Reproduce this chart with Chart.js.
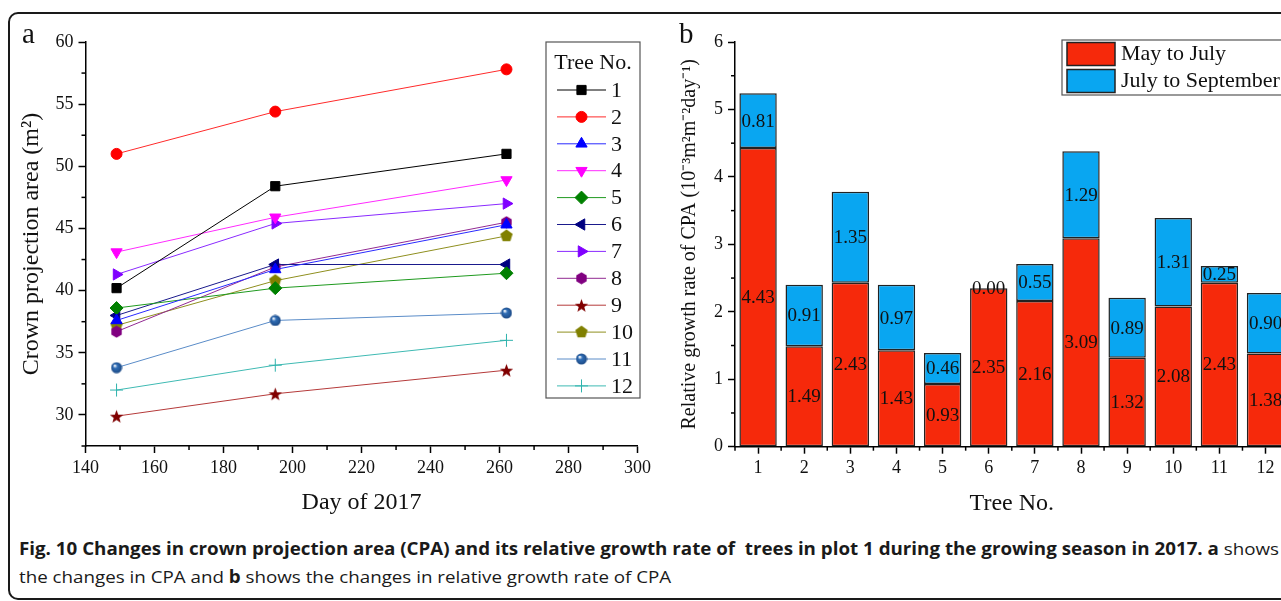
<!DOCTYPE html>
<html>
<head>
<meta charset="utf-8">
<script src="https://cdn.jsdelivr.net/npm/chart.js@4.4.0/dist/chart.umd.min.js"></script>
<style>
    html, body { margin: 0; padding: 0; background: #fff; overflow: hidden; width: 1281px; height: 601px; }
    #frame { position: absolute; left: 8px; top: 12px; width: 1310px; height: 584px; border: 2px solid #1a1a1a; border-radius: 10px; }
    canvas { position: absolute; top: 0; }
    #cpaChart { left: 0; }
    #rateChart { left: 660px; }
    .panel { position: absolute; top: 18px; font-family: 'Liberation Serif', serif; font-size: 29px; line-height: 30px; color: #111; }
    #caption { position: absolute; left: 19px; top: 535px; font-family: 'Open Sans', sans-serif; font-size: 17px; line-height: 28px; color: #1a1a1a; white-space: nowrap; transform-origin: 0 0; }
    #caption b { font-weight: 700; }
</style>
</head>
<body>
<div id="frame"></div>
<canvas id="cpaChart" width="660" height="530"></canvas>
<canvas id="rateChart" width="640" height="530"></canvas>
<div class="panel" style="left:22px">a</div>
<div class="panel" style="left:679px">b</div>
<div id="caption">
    <div id="capLine1"><b>Fig. 10 Changes in crown projection area (CPA) and its relative growth rate of&nbsp; trees in plot 1 during the growing season in 2017. a</b> shows</div>
    <div>the changes in CPA and <b>b</b> shows the changes in relative growth rate of CPA</div>
</div>
<script>
// ---- dữ liệu hình a: diện tích tán (m2) theo ngày ----
const days = [149, 195, 262];
const treeNo = ['1', '2', '3', '4', '5', '6', '7', '8', '9', '10', '11', '12'];
const cpa1 = [40.2, 48.4, 51.0];
const cpa2 = [51.0, 54.4, 57.8];
const cpa3 = [37.6, 41.7, 45.3];
const cpa4 = [43.1, 45.9, 48.9];
const cpa5 = [38.6, 40.2, 41.4];
const cpa6 = [38.0, 42.1, 42.1];
const cpa7 = [41.3, 45.4, 47.0];
const cpa8 = [36.7, 41.9, 45.5];
const cpa9 = [29.9, 31.7, 33.6];
const cpa10 = [37.2, 40.8, 44.4];
const cpa11 = [33.8, 37.6, 38.2];
const cpa12 = [32.0, 34.0, 36.0];
const cpaSeries = [cpa1, cpa2, cpa3, cpa4, cpa5, cpa6, cpa7, cpa8, cpa9, cpa10, cpa11, cpa12];
const dayTicks = [140, 160, 180, 200, 220, 240, 260, 280, 300];
const cpaTicks = [30, 35, 40, 45, 50, 55, 60];

// ---- dữ liệu hình b: tốc độ tăng trưởng tương đối ----
const mayToJuly = [4.43, 1.49, 2.43, 1.43, 0.93, 2.35, 2.16, 3.09, 1.32, 2.08, 2.43, 1.38];
const julyToSep = [0.81, 0.91, 1.35, 0.97, 0.46, 0.00, 0.55, 1.29, 0.89, 1.31, 0.25, 0.90];
const rateTicks = [0, 1, 2, 3, 4, 5, 6];

// màu và ký hiệu từng cây
const markerColors = ['#000000', '#ff0000', '#0000ff', '#ff00ff', '#008000', '#000080', '#8000ff', '#800080', '#800000', '#808000', '#2f6db5', '#2fb3ad'];
const lineColors = ['#000000', '#ff2a2a', '#2a2aff', '#ff2aff', '#1f9a1f', '#1a1a8c', '#8a2aff', '#922a92', '#b53a3a', '#8f8f1f', '#5a8cc8', '#3fbab3'];

Chart.defaults.font.family = "'Liberation Serif', 'Times New Roman', serif";
Chart.defaults.color = '#111';

function shapeMarker(kind, fill, size) {
    const c = document.createElement('canvas');
    c.width = c.height = size;
    const g = c.getContext('2d');
    const cx = size / 2, cy = size / 2, r = size / 2 - 0.5;
    g.beginPath();
    if (kind === 'hexagon' || kind === 'pentagon') {
        const n = kind === 'hexagon' ? 6 : 5;
        for (let k = 0; k < n; k++) {
            const a = -Math.PI / 2 + k * 2 * Math.PI / n;
            g.lineTo(cx + r * Math.cos(a), cy + r * Math.sin(a));
        }
    } else if (kind === 'star') {
        for (let k = 0; k < 10; k++) {
            const a = -Math.PI / 2 + k * Math.PI / 5;
            const rr = k % 2 ? r * 0.42 : r;
            g.lineTo(cx + rr * Math.cos(a), cy + rr * Math.sin(a) + 0.8);
        }
    } else {
        g.arc(cx, cy, r, 0, Math.PI * 2);
        const grad = g.createRadialGradient(cx - r * 0.35, cy - r * 0.4, 0.4, cx, cy, r);
        grad.addColorStop(0, '#ffffff');
        grad.addColorStop(0.35, fill);
        grad.addColorStop(1, '#1d4a86');
        fill = grad;
    }
    g.closePath();
    g.fillStyle = fill;
    g.fill();
    return c;
}

const markerStyles = ['rect', 'circle', 'triangle', 'triangle', 'rectRot', 'triangle', 'triangle',
    shapeMarker('hexagon', markerColors[7], 13), shapeMarker('star', markerColors[8], 15),
    shapeMarker('pentagon', markerColors[9], 14), shapeMarker('ball', markerColors[10], 12), 'cross'];
const markerRotation = [0, 0, 0, 180, 0, 270, 90, 0, 0, 0, 0, 0];
const markerRadius = [6.5, 5.5, 6.5, 6.5, 6.5, 6.5, 6.5, 6, 6, 6, 6, 6.5];

// vạch chia phụ (minor ticks)
const minorTicks = {
    id: 'minorTicks',
    afterDraw(chart, args, opts) {
        const ctx = chart.ctx;
        ctx.save();
        ctx.strokeStyle = '#000';
        ctx.lineWidth = 1.5;
        const xs = chart.scales.x, ys = chart.scales.y;
        opts.x.forEach(v => {
            const px = xs.getPixelForValue(v);
            ctx.beginPath(); ctx.moveTo(px, xs.top); ctx.lineTo(px, xs.top + 4); ctx.stroke();
        });
        opts.y.forEach(v => {
            const py = ys.getPixelForValue(v);
            ctx.beginPath(); ctx.moveTo(ys.right, py); ctx.lineTo(ys.right - 4, py); ctx.stroke();
        });
        ctx.restore();
    }
};

// chú thích hình a
const treeLegend = {
    id: 'treeLegend',
    afterDraw(chart, args, opts) {
        const ctx = chart.ctx;
        const { left, top, width, height } = opts;
        ctx.save();
        ctx.strokeStyle = '#555';
        ctx.lineWidth = 1.2;
        ctx.strokeRect(left, top, width, height);
        ctx.fillStyle = '#111';
        ctx.font = "22px 'Liberation Serif'";
        ctx.textAlign = 'center';
        ctx.textBaseline = 'middle';
        ctx.fillText('Tree No.', left + width / 2, top + 21);
        ctx.textAlign = 'left';
        chart.data.datasets.forEach((ds, i) => {
            const y = top + 48 + i * 26.9;
            ctx.strokeStyle = ds.borderColor;
            ctx.lineWidth = 1;
            ctx.beginPath(); ctx.moveTo(left + 11, y); ctx.lineTo(left + 60, y); ctx.stroke();
            ctx.fillStyle = ds.backgroundColor;
            ctx.strokeStyle = ds.pointBorderColor;
            Chart.helpers.drawPoint(ctx, {
                pointStyle: ds.pointStyle, rotation: ds.pointRotation,
                radius: ds.pointRadius, borderWidth: 1
            }, left + 35.5, y);
            ctx.fillStyle = '#111';
            ctx.fillText(ds.label, left + 65, y + 1);
        });
        ctx.restore();
    }
};

new Chart(document.getElementById('cpaChart'), {
    type: 'line',
    data: {
        datasets: cpaSeries.map((vals, i) => ({
            label: treeNo[i],
            data: days.map((d, j) => ({ x: d, y: vals[j] })),
            borderColor: lineColors[i],
            backgroundColor: markerColors[i],
            pointBorderColor: markerColors[i],
            pointBackgroundColor: markerColors[i],
            pointStyle: markerStyles[i],
            pointRotation: markerRotation[i],
            pointRadius: markerRadius[i],
            pointBorderWidth: 1,
            borderWidth: 1,
            tension: 0,
            clip: false
        }))
    },
    options: {
        responsive: false,
        animation: false,
        events: [],
        layout: { padding: { top: 42, right: 22.4, left: 0, bottom: 0 } },
        plugins: {
            legend: { display: false },
            tooltip: { enabled: false },
            minorTicks: { x: [150, 170, 190, 210, 230, 250, 270, 290], y: [27.5, 32.5, 37.5, 42.5, 47.5, 52.5, 57.5] },
            treeLegend: { left: 546, top: 42, width: 94, height: 356 }
        },
        scales: {
            x: {
                type: 'linear', min: 140, max: 300,
                afterBuildTicks: s => { s.ticks = dayTicks.map(v => ({ value: v })); },
                ticks: { font: { size: 18 }, padding: 4, color: '#111' },
                grid: { drawOnChartArea: false, tickLength: 7, tickColor: '#000', tickWidth: 1.5 },
                border: { color: '#000', width: 1.5 },
                title: { display: true, text: 'Day of 2017', font: { size: 24 }, padding: { bottom: 13 }, color: '#111' },
                afterFit: s => { s.height = 84; }
            },
            y: {
                min: 27.5, max: 60,
                afterBuildTicks: s => { s.ticks = cpaTicks.map(v => ({ value: v })); },
                ticks: { font: { size: 18 }, padding: 5, color: '#111' },
                grid: { drawOnChartArea: false, tickLength: 7, tickColor: '#000', tickWidth: 1.5 },
                border: { color: '#000', width: 1.5 },
                title: { display: true, text: 'Crown projection area (m²)', font: { size: 24 }, padding: { top: 17 }, color: '#111' },
                afterFit: s => { s.width = 85.5; }
            }
        }
    },
    plugins: [minorTicks, treeLegend]
});

// nhãn giá trị trên cột
const barValues = {
    id: 'barValues',
    afterDatasetsDraw(chart) {
        const ctx = chart.ctx;
        ctx.save();
        ctx.font = "19px 'Liberation Serif'";
        ctx.fillStyle = '#111';
        ctx.textAlign = 'center';
        ctx.textBaseline = 'middle';
        chart.data.datasets.forEach((ds, di) => {
            chart.getDatasetMeta(di).data.forEach((bar, i) => {
                ctx.fillText(ds.data[i].toFixed(2), bar.x, (bar.y + bar.base) / 2 + 1);
            });
        });
        ctx.restore();
    }
};

// chú thích hình b
const periodLegend = {
    id: 'periodLegend',
    afterDraw(chart, args, opts) {
        const ctx = chart.ctx;
        const { left, top } = opts;
        ctx.save();
        ctx.strokeStyle = '#555';
        ctx.lineWidth = 1.2;
        ctx.strokeRect(left, top, 260, 55);
        ctx.font = "22px 'Liberation Serif'";
        ctx.textBaseline = 'middle';
        chart.data.datasets.forEach((ds, i) => {
            const y = top + 2.5 + i * 27;
            ctx.fillStyle = ds.backgroundColor;
            ctx.fillRect(left + 5, y, 48, 23);
            ctx.strokeStyle = '#222';
            ctx.lineWidth = 1.5;
            ctx.strokeRect(left + 5, y, 48, 23);
            ctx.fillStyle = '#111';
            ctx.fillText(ds.label, left + 59, y + 12);
        });
        ctx.restore();
    }
};

const boundaries = [];
for (let i = 0; i <= treeNo.length; i++) boundaries.push(i - 0.5);

new Chart(document.getElementById('rateChart'), {
    type: 'bar',
    data: {
        labels: treeNo,
        datasets: [
            { label: 'May to July', data: mayToJuly, backgroundColor: '#f6290b', borderColor: '#222', borderWidth: 1.5, borderSkipped: false },
            { label: 'July to September', data: julyToSep, backgroundColor: '#09a6f1', borderColor: '#222', borderWidth: 1.5, borderSkipped: false }
        ]
    },
    options: {
        responsive: false,
        animation: false,
        events: [],
        datasets: { bar: { barPercentage: 0.81, categoryPercentage: 1 } },
        layout: { padding: { top: 42, right: 11.4, left: 0, bottom: 0 } },
        plugins: {
            legend: { display: false },
            tooltip: { enabled: false },
            minorTicks: { x: boundaries, y: [0.5, 1.5, 2.5, 3.5, 4.5, 5.5] },
            periodLegend: { left: 402, top: 40 }
        },
        scales: {
            x: {
                stacked: true, offset: true,
                ticks: { font: { size: 18 }, padding: 4, color: '#111' },
                grid: { offset: false, drawOnChartArea: false, tickLength: 7, tickColor: '#000', tickWidth: 1.5 },
                border: { color: '#000', width: 1.5 },
                title: { display: true, text: 'Tree No.', font: { size: 24 }, padding: { bottom: 12 }, color: '#111' },
                afterFit: s => { s.height = 83.3; }
            },
            y: {
                stacked: true, min: 0, max: 6,
                afterBuildTicks: s => { s.ticks = rateTicks.map(v => ({ value: v })); },
                ticks: { font: { size: 18 }, padding: 5, color: '#111' },
                grid: { drawOnChartArea: false, tickLength: 7, tickColor: '#000', tickWidth: 1.5 },
                border: { color: '#000', width: 1.5 },
                title: { display: true, text: 'Relative growth rate of CPA (10⁻³m²m⁻²day⁻¹)', font: { size: 20 }, padding: { top: 18 }, color: '#111' },
                afterFit: s => { s.width = 75; }
            }
        }
    },
    plugins: [minorTicks, barValues, periodLegend]
});

// co giãn chú thích hình cho vừa chiều ngang
const cap = document.getElementById('caption');
const capW = document.getElementById('capLine1').getBoundingClientRect().width;
cap.style.transform = 'scaleX(' + (1260 / capW) + ')';
</script>
</body>
</html>
